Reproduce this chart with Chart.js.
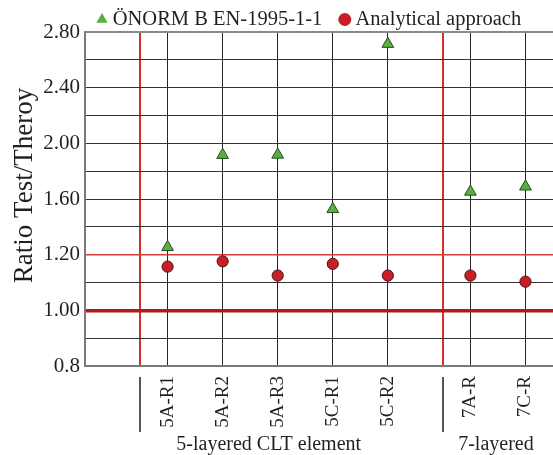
<!DOCTYPE html>
<html><head><meta charset="utf-8">
<script src="https://cdn.jsdelivr.net/npm/chart.js@4/dist/chart.umd.min.js"></script>
<style>html,body{margin:0;padding:0;background:#fff}#wrap{width:553px;height:455px;position:relative}canvas{display:block}</style>
</head><body><div id="wrap"><canvas id="c" width="553" height="455"></canvas></div>
<script>
// ---- data ----
const categories = ['5A-R1','5A-R2','5A-R3','5C-R1','5C-R2','7A-R','7C-R'];
const groupOf = [0,0,0,0,0,1,1];
const groupNames = ['5-layered CLT element','7-layered'];
const seriesNames = ['ÖNORM B EN-1995-1-1','Analytical approach'];
const onormValues = [1.254, 1.916, 1.918, 1.527, 2.714, 1.652, 1.689];
const analyticalValues = [1.157, 1.176, 1.125, 1.167, 1.125, 1.125, 1.103];
const yGridValues = [0.8,0.9,1.0,1.1,1.2,1.4,1.6,1.8,2.0,2.2,2.4,2.6,2.8];
const yTickLabels = {'0.8':'0.8','1':'1.00','1.2':'1.20','1.6':'1.60','2':'2.00','2.4':'2.40','2.8':'2.80'};
const yTitle = 'Ratio Test/Theroy';

// ---- category slots on x (one unit per category, half-unit gap between groups) ----
const xPos = categories.map((c,i)=> 1.5 + i + 0.5*groupOf[i]);
const sepPos = groupNames.map((g,gi)=> xPos[groupOf.indexOf(gi)] - 0.5);
const xMax = xPos[xPos.length-1] + 0.5;
const groupCenters = groupNames.map((g,gi)=>{const p=xPos.filter((v,i)=>groupOf[i]===gi);return (p[0]+p[p.length-1])/2;});
const groupShiftPx = [-9,-2];

// ---- piecewise y scale (equal spacing between grid values) ----
function toFrac(v){
  const g=yGridValues,n=g.length-1;
  for(let i=0;i<n;i++){ if(v<=g[i+1]||i===n-1) return (i+(v-g[i])/(g[i+1]-g[i]))/n; }
}
function fromFrac(f){
  const g=yGridValues,n=g.length-1; const t=f*n; const i=Math.min(n-1,Math.max(0,Math.floor(t)));
  return g[i]+(t-i)*(g[i+1]-g[i]);
}
class PiecewiseScale extends Chart.LinearScale {
  buildTicks(){ return yGridValues.map(v=>({value:v})); }
  getPixelForValue(v){ return this.getPixelForDecimal(toFrac(v)); }
  getValueForPixel(p){ return fromFrac(this.getDecimalForPixel(p)); }
}
PiecewiseScale.id='piecewise';
PiecewiseScale.defaults = Chart.LinearScale.defaults;
Chart.register(PiecewiseScale);

const FONT = "'Liberation Serif','Times New Roman',serif";
const TXT = '#231f20';

const extras = {
  id:'extras',
  beforeLayout(chart){
    const lg = chart.legend;
    if(lg && !lg._patched){ const f=lg.fit; lg.fit=function(){ f.call(this); this.height=44.75; }; lg._patched=true; }
  },
  afterLayout(chart){ const lg = chart.legend; if(lg){ lg.left += 79.5; lg.right += 79.5; } },
  afterDraw(chart){
    const ctx=chart.ctx, xs=chart.scales.x, area=chart.chartArea;
    ctx.save();
    ctx.fillStyle=TXT; ctx.font="27px "+FONT;
    ctx.translate(32,185.5); ctx.rotate(-Math.PI/2);
    ctx.textAlign='center'; ctx.textBaseline='alphabetic';
    ctx.fillText(yTitle,0,0);
    ctx.restore();
    ctx.save();
    ctx.strokeStyle='#555'; ctx.lineWidth=2;
    sepPos.forEach(v=>{const x=Math.round(xs.getPixelForValue(v));ctx.beginPath();ctx.moveTo(x,area.bottom+11);ctx.lineTo(x,area.bottom+66);ctx.stroke();});
    ctx.fillStyle=TXT; ctx.font="20px "+FONT; ctx.textAlign='center'; ctx.textBaseline='alphabetic';
    groupNames.forEach((g,i)=>ctx.fillText(g, xs.getPixelForValue(groupCenters[i])+groupShiftPx[i], area.bottom+84));
    ctx.restore();
  }
};

new Chart(document.getElementById('c'),{
  type:'scatter',
  data:{datasets:[
    {label:seriesNames[0], data:categories.map((c,i)=>({x:xPos[i],y:onormValues[i]})),
     pointStyle:'triangle', pointRadius:6.8, pointHoverRadius:6.8, backgroundColor:'#56b23c', borderColor:'#2c4a22', borderWidth:1},
    {label:seriesNames[1], data:categories.map((c,i)=>({x:xPos[i],y:analyticalValues[i]})),
     pointStyle:'circle', pointRadius:5.6, pointHoverRadius:5.6, backgroundColor:'#c81e28', borderColor:'#4a1212', borderWidth:1}
  ]},
  options:{
    responsive:false, animation:false, devicePixelRatio:1,
    layout:{autoPadding:false, padding:{left:0,right:0,top:-12.75,bottom:0}},
    plugins:{
      tooltip:{enabled:false},
      legend:{position:'top', fullSize:true, align:'start',
        labels:{usePointStyle:true, boxWidth:1, boxHeight:9.2, padding:22, color:TXT, font:{family:FONT,size:20.5},
          generateLabels:(chart)=>Chart.defaults.plugins.legend.labels.generateLabels(chart).map(l=>Object.assign(l,{lineWidth:0,strokeStyle:'rgba(0,0,0,0)'}))}}
    },
    scales:{
      x:{type:'linear', min:0, max:xMax,
        afterBuildTicks:(s)=>{ s.ticks = sepPos.concat(xPos).sort((a,b)=>a-b).map(v=>({value:v})); },
        afterFit:(s)=>{ s.height=89; s.paddingLeft=0; s.paddingRight=0; },
        grid:{drawTicks:false, color:(c)=>sepPos.includes(c.tick&&c.tick.value)?'#d2302e':'#262626', lineWidth:(c)=>sepPos.includes(c.tick&&c.tick.value)?2:1},
        border:{display:true,color:'#7a7a7a',width:2},
        ticks:{autoSkip:false, minRotation:90, maxRotation:90, padding:10, color:TXT, font:{family:FONT,size:19},
          callback:(v)=>{const i=xPos.indexOf(v); return i>=0?categories[i]:'';}}
      },
      y:{type:'piecewise', min:yGridValues[0], max:yGridValues[yGridValues.length-1],
        afterFit:(s)=>{ s.width=85; },
        grid:{drawTicks:false,
          color:(c)=>{const v=c.tick&&c.tick.value; if(v===1.0) return '#b01a1a'; if(v===1.2) return '#d23c3c'; if(v===2.8) return '#8a8a8a'; return '#333';},
          lineWidth:(c)=>{const v=c.tick&&c.tick.value; if(v===1.0) return 3.5; if(v===1.2) return 1.5; if(v===2.8) return 2; return 1;}},
        border:{display:true,color:'#7a7a7a',width:2},
        ticks:{autoSkip:false, padding:5, color:TXT, font:{family:FONT,size:21},
          callback:(v)=>yTickLabels[String(+(+v).toFixed(2))]||''}
      }
    }
  },
  plugins:[extras]
});
</script></body></html>
